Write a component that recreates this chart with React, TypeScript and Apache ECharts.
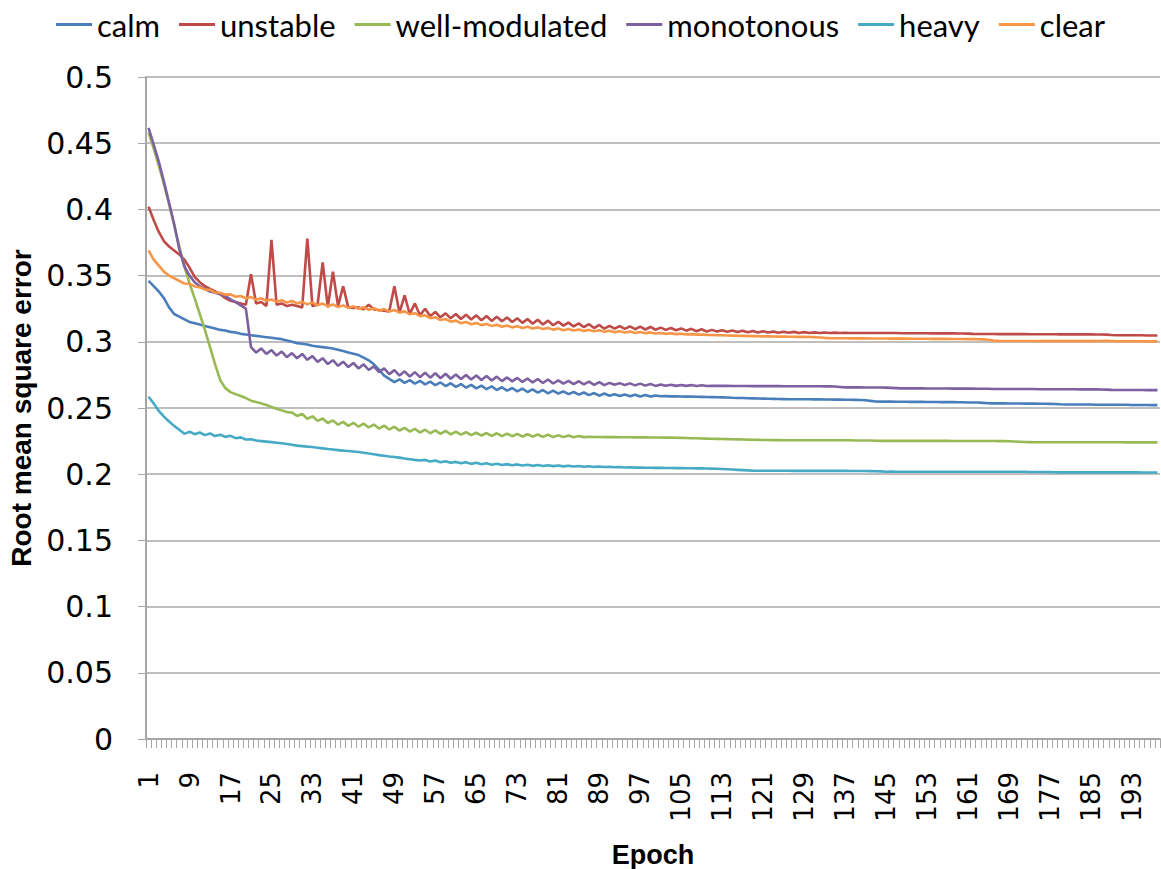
import React, { useEffect, useRef } from "react";
import * as echarts from "echarts";

// Training curves: RMSE per epoch for six voice-quality classes
const epochs: string[] = Array.from({ length: 198 }, (_, i) => String(i + 1));

const calm = [
  0.346, 0.342, 0.338, 0.333, 0.326, 0.321, 0.319, 0.317, 0.315, 0.314,
  0.313, 0.312, 0.311, 0.310, 0.309, 0.3085, 0.3075, 0.307, 0.306, 0.3055,
  0.305, 0.3045, 0.304, 0.3035, 0.303, 0.3025, 0.302, 0.301, 0.300, 0.299,
  0.2985, 0.298, 0.297, 0.2965, 0.296, 0.2955, 0.295, 0.294, 0.293, 0.292,
  0.291, 0.290, 0.288, 0.286, 0.283, 0.279, 0.2745, 0.272, 0.2695, 0.2717,
  0.2690, 0.2711, 0.2684, 0.2705, 0.2678, 0.2699, 0.2672, 0.2693, 0.2666, 0.2687,
  0.2660, 0.2681, 0.2654, 0.2675, 0.2648, 0.2669, 0.2642, 0.2663, 0.2636, 0.2657,
  0.2631, 0.2651, 0.2626, 0.2646, 0.2621, 0.2641, 0.2616, 0.2636, 0.2611, 0.2631,
  0.2609, 0.2625, 0.2605, 0.2621, 0.2601, 0.2617, 0.2597, 0.2613, 0.2593, 0.2609,
  0.2593, 0.2604, 0.2591, 0.2602, 0.2589, 0.2600, 0.2587, 0.2598, 0.2586, 0.2594,
  0.2589, 0.2590, 0.2588, 0.2588, 0.2587, 0.2586, 0.2586, 0.2585, 0.2584, 0.2583,
  0.2582, 0.2581, 0.2580, 0.2579, 0.2577, 0.2576, 0.2575, 0.2574, 0.2573, 0.2572,
  0.2571, 0.2570, 0.2569, 0.2568, 0.2567, 0.2566, 0.2566, 0.2566, 0.2566, 0.2566,
  0.2565, 0.2565, 0.2564, 0.2564, 0.2563, 0.2563, 0.2562, 0.2562, 0.2561, 0.2560,
  0.2558, 0.2554, 0.2549, 0.2548, 0.2548, 0.2548, 0.2547, 0.2547, 0.2547, 0.2546,
  0.2546, 0.2546, 0.2545, 0.2545, 0.2545, 0.2544, 0.2544, 0.2544, 0.2543, 0.2543,
  0.2542, 0.2542, 0.2541, 0.2539, 0.2536, 0.2535, 0.2535, 0.2535, 0.2534, 0.2534,
  0.2534, 0.2533, 0.2533, 0.2533, 0.2532, 0.2532, 0.2531, 0.2530, 0.2528, 0.2527,
  0.2527, 0.2527, 0.2526, 0.2526, 0.2526, 0.2525, 0.2525, 0.2525, 0.2525, 0.2524,
  0.2524, 0.2524, 0.2523, 0.2523, 0.2523, 0.2523, 0.2522, 0.2522,
];

const unstable = [
  0.402, 0.392, 0.383, 0.376, 0.372, 0.369, 0.366, 0.362, 0.356, 0.349,
  0.345, 0.342, 0.340, 0.338, 0.336, 0.333, 0.331, 0.330, 0.329, 0.328,
  0.351, 0.329, 0.330, 0.327, 0.377, 0.328, 0.329, 0.327, 0.328, 0.327,
  0.326, 0.378, 0.327, 0.328, 0.360, 0.326, 0.353, 0.327, 0.342, 0.326,
  0.3255, 0.326, 0.3245, 0.328, 0.3245, 0.324, 0.3235, 0.323, 0.342, 0.322,
  0.335, 0.321, 0.329, 0.320, 0.325, 0.3195, 0.3225, 0.3185, 0.3215, 0.3178,
  0.3210, 0.3172, 0.3205, 0.3168, 0.3200, 0.3163, 0.3195, 0.3158, 0.3190, 0.3155,
  0.3184, 0.3149, 0.3178, 0.3143, 0.3172, 0.3137, 0.3166, 0.3131, 0.3160, 0.3125,
  0.3151, 0.3122, 0.3145, 0.3116, 0.3139, 0.3110, 0.3133, 0.3104, 0.3127, 0.3099,
  0.3120, 0.3099, 0.3118, 0.3097, 0.3116, 0.3095, 0.3114, 0.3093, 0.3112, 0.3091,
  0.3107, 0.3090, 0.3104, 0.3087, 0.3101, 0.3084, 0.3098, 0.3080, 0.3095, 0.3077,
  0.3090, 0.3077, 0.3088, 0.3076, 0.3086, 0.3074, 0.3084, 0.3072, 0.3082, 0.3071,
  0.3079, 0.3070, 0.3077, 0.3069, 0.3076, 0.3068, 0.3075, 0.3067, 0.3073, 0.3067,
  0.3071, 0.3067, 0.3070, 0.3067, 0.3069, 0.3067, 0.3068, 0.3067, 0.3067, 0.3067,
  0.3067, 0.3067, 0.3066, 0.3066, 0.3066, 0.3066, 0.3066, 0.3065, 0.3065, 0.3065,
  0.3065, 0.3065, 0.3065, 0.3064, 0.3064, 0.3064, 0.3064, 0.3064, 0.3063, 0.3063,
  0.3062, 0.3060, 0.3059, 0.3059, 0.3059, 0.3059, 0.3058, 0.3058, 0.3058, 0.3058,
  0.3058, 0.3058, 0.3057, 0.3057, 0.3057, 0.3057, 0.3057, 0.3057, 0.3056, 0.3056,
  0.3056, 0.3056, 0.3056, 0.3056, 0.3056, 0.3055, 0.3055, 0.3054, 0.3051, 0.3049,
  0.3049, 0.3049, 0.3049, 0.3049, 0.3049, 0.3048, 0.3048, 0.3048,
];

const wellModulated = [
  0.458, 0.446, 0.433, 0.419, 0.404, 0.388, 0.372, 0.357, 0.344, 0.333,
  0.321, 0.309, 0.296, 0.283, 0.271, 0.265, 0.262, 0.2605, 0.259, 0.2575,
  0.2555, 0.2545, 0.2535, 0.2522, 0.2508, 0.2495, 0.2482, 0.2470, 0.2465, 0.2440,
  0.2455, 0.2419, 0.2437, 0.2403, 0.2421, 0.2387, 0.2406, 0.2374, 0.2395, 0.2365,
  0.2388, 0.2359, 0.2382, 0.2353, 0.2375, 0.2345, 0.2367, 0.2337, 0.2359, 0.2329,
  0.2350, 0.2322, 0.2342, 0.2315, 0.2336, 0.2309, 0.2331, 0.2305, 0.2327, 0.2301,
  0.2321, 0.2299, 0.2317, 0.2295, 0.2313, 0.2292, 0.2311, 0.2290, 0.2309, 0.2288,
  0.2306, 0.2287, 0.2304, 0.2285, 0.2302, 0.2284, 0.2300, 0.2282, 0.2298, 0.2280,
  0.2294, 0.2280, 0.2292, 0.2279, 0.2289, 0.2280, 0.2283, 0.2281, 0.2281, 0.2280,
  0.2280, 0.2280, 0.2279, 0.2279, 0.2279, 0.2278, 0.2278, 0.2278, 0.2277, 0.2277,
  0.2277, 0.2276, 0.2276, 0.2275, 0.2274, 0.2273, 0.2272, 0.2271, 0.2270, 0.2269,
  0.2268, 0.2267, 0.2266, 0.2265, 0.2264, 0.2263, 0.2262, 0.2261, 0.2260, 0.2259,
  0.2258, 0.2258, 0.2257, 0.2257, 0.2256, 0.2256, 0.2256, 0.2256, 0.2256, 0.2256,
  0.2256, 0.2256, 0.2256, 0.2256, 0.2256, 0.2256, 0.2256, 0.2256, 0.2255, 0.2255,
  0.2255, 0.2254, 0.2253, 0.2252, 0.2252, 0.2252, 0.2252, 0.2252, 0.2252, 0.2252,
  0.2252, 0.2252, 0.2252, 0.2252, 0.2252, 0.2252, 0.2252, 0.2251, 0.2251, 0.2251,
  0.2251, 0.2251, 0.2251, 0.2251, 0.2251, 0.2251, 0.2250, 0.2250, 0.2249, 0.2247,
  0.2245, 0.2243, 0.2242, 0.2241, 0.2241, 0.2241, 0.2241, 0.2241, 0.2241, 0.2241,
  0.2241, 0.2241, 0.2241, 0.2241, 0.2241, 0.2241, 0.2241, 0.2241, 0.2241, 0.2241,
  0.2241, 0.2240, 0.2240, 0.2240, 0.2240, 0.2240, 0.2240, 0.2240,
];

const monotonous = [
  0.4615, 0.449, 0.436, 0.421, 0.405, 0.389, 0.370, 0.357, 0.350, 0.345,
  0.342, 0.340, 0.338, 0.337, 0.336, 0.3345, 0.332, 0.330, 0.3275, 0.325,
  0.2960, 0.2919, 0.2950, 0.2908, 0.2938, 0.2896, 0.2926, 0.2884, 0.2915, 0.2875,
  0.2908, 0.2864, 0.2892, 0.2848, 0.2876, 0.2832, 0.2861, 0.2819, 0.2850, 0.2809,
  0.2840, 0.2799, 0.2830, 0.2787, 0.2815, 0.2771, 0.2799, 0.2756, 0.2786, 0.2745,
  0.2777, 0.2738, 0.2771, 0.2733, 0.2767, 0.2729, 0.2763, 0.2725, 0.2759, 0.2721,
  0.2753, 0.2719, 0.2749, 0.2715, 0.2745, 0.2711, 0.2741, 0.2707, 0.2737, 0.2703,
  0.2731, 0.2701, 0.2727, 0.2697, 0.2723, 0.2693, 0.2719, 0.2689, 0.2715, 0.2685,
  0.2708, 0.2684, 0.2705, 0.2681, 0.2702, 0.2678, 0.2699, 0.2675, 0.2696, 0.2673,
  0.2690, 0.2675, 0.2688, 0.2673, 0.2686, 0.2671, 0.2684, 0.2669, 0.2682, 0.2667,
  0.2677, 0.2668, 0.2675, 0.2667, 0.2674, 0.2667, 0.2673, 0.2666, 0.2672, 0.2666,
  0.2668, 0.2667, 0.2667, 0.2667, 0.2666, 0.2666, 0.2666, 0.2666, 0.2665, 0.2665,
  0.2665, 0.2665, 0.2665, 0.2665, 0.2664, 0.2664, 0.2664, 0.2664, 0.2664, 0.2664,
  0.2664, 0.2664, 0.2663, 0.2663, 0.2662, 0.2659, 0.2656, 0.2656, 0.2656, 0.2656,
  0.2655, 0.2655, 0.2655, 0.2655, 0.2654, 0.2652, 0.2650, 0.2648, 0.2648, 0.2648,
  0.2648, 0.2648, 0.2647, 0.2647, 0.2647, 0.2647, 0.2647, 0.2646, 0.2646, 0.2646,
  0.2646, 0.2646, 0.2645, 0.2645, 0.2645, 0.2644, 0.2644, 0.2644, 0.2644, 0.2644,
  0.2643, 0.2643, 0.2643, 0.2643, 0.2642, 0.2642, 0.2642, 0.2642, 0.2642, 0.2642,
  0.2642, 0.2642, 0.2641, 0.2641, 0.2641, 0.2641, 0.2640, 0.2639, 0.2637, 0.2636,
  0.2636, 0.2636, 0.2636, 0.2636, 0.2636, 0.2635, 0.2635, 0.2635,
];

const heavy = [
  0.2585, 0.2535, 0.2478, 0.2435, 0.2398, 0.2365, 0.2335, 0.2305, 0.2322, 0.2302,
  0.2315, 0.2295, 0.2308, 0.2288, 0.2298, 0.2282, 0.2290, 0.2272, 0.2278, 0.2262,
  0.2264, 0.2254, 0.2250, 0.2246, 0.2242, 0.2238, 0.2234, 0.2228, 0.2222, 0.2216,
  0.2212, 0.2208, 0.2205, 0.2200, 0.2195, 0.2190, 0.2186, 0.2182, 0.2178, 0.2175,
  0.2172, 0.2168, 0.2162, 0.2156, 0.2150, 0.2144, 0.2139, 0.2134, 0.2130, 0.2125,
  0.2118, 0.2113, 0.2108, 0.2104, 0.2108, 0.2096, 0.2103, 0.2090, 0.2098, 0.2086,
  0.2093, 0.2082, 0.2090, 0.2078, 0.2086, 0.2075, 0.2082, 0.2072, 0.2079, 0.2069,
  0.2076, 0.2067, 0.2074, 0.2065, 0.2072, 0.2063, 0.2070, 0.2062, 0.2068, 0.2061,
  0.2066, 0.2059, 0.2064, 0.2058, 0.2062, 0.2056, 0.2060, 0.2055, 0.2058, 0.2054,
  0.2056, 0.2052, 0.2054, 0.2051, 0.2052, 0.2050, 0.2050, 0.2049, 0.2049, 0.2048,
  0.2048, 0.2047, 0.2047, 0.2046, 0.2046, 0.2045, 0.2045, 0.2044, 0.2044, 0.2043,
  0.2042, 0.2041, 0.2039, 0.2037, 0.2035, 0.2033, 0.2031, 0.2029, 0.2027, 0.2026,
  0.2026, 0.2026, 0.2026, 0.2026, 0.2026, 0.2026, 0.2025, 0.2025, 0.2025, 0.2025,
  0.2025, 0.2025, 0.2025, 0.2025, 0.2025, 0.2025, 0.2025, 0.2024, 0.2024, 0.2024,
  0.2024, 0.2023, 0.2022, 0.2021, 0.2019, 0.2020, 0.2019, 0.2019, 0.2019, 0.2019,
  0.2019, 0.2019, 0.2019, 0.2019, 0.2019, 0.2019, 0.2019, 0.2019, 0.2019, 0.2019,
  0.2019, 0.2019, 0.2018, 0.2018, 0.2018, 0.2018, 0.2018, 0.2018, 0.2018, 0.2018,
  0.2018, 0.2018, 0.2017, 0.2017, 0.2017, 0.2017, 0.2016, 0.2015, 0.2014, 0.2014,
  0.2014, 0.2014, 0.2014, 0.2014, 0.2014, 0.2014, 0.2014, 0.2014, 0.2014, 0.2014,
  0.2014, 0.2014, 0.2014, 0.2014, 0.2013, 0.2013, 0.2013, 0.2013,
];

const clear = [
  0.369, 0.362, 0.3575, 0.353, 0.350, 0.348, 0.346, 0.3440, 0.3438, 0.3418,
  0.3412, 0.3395, 0.3392, 0.3372, 0.3370, 0.3356, 0.3358, 0.3340, 0.3346, 0.3328,
  0.3338, 0.3318, 0.3328, 0.3310, 0.3320, 0.3302, 0.3314, 0.3296, 0.3308, 0.3290,
  0.3302, 0.3283, 0.3296, 0.3276, 0.3289, 0.3269, 0.3282, 0.3262, 0.3275, 0.3256,
  0.3268, 0.3249, 0.3261, 0.3242, 0.3254, 0.3235, 0.3247, 0.3228, 0.3240, 0.3220,
  0.3230, 0.3208, 0.3216, 0.3193, 0.3200, 0.3178, 0.3186, 0.3164, 0.3172, 0.3152,
  0.3160, 0.3141, 0.3150, 0.3133, 0.3142, 0.3126, 0.3135, 0.3120, 0.3129, 0.3114,
  0.3123, 0.3109, 0.3118, 0.3104, 0.3113, 0.3100, 0.3109, 0.3096, 0.3105, 0.3092,
  0.3100, 0.3088, 0.3097, 0.3085, 0.3093, 0.3082, 0.3090, 0.3079, 0.3087, 0.3076,
  0.3083, 0.3073, 0.3080, 0.3070, 0.3077, 0.3067, 0.3074, 0.3065, 0.3071, 0.3063,
  0.3067, 0.3060, 0.3064, 0.3058, 0.3061, 0.3056, 0.3058, 0.3054, 0.3055, 0.3052,
  0.3051, 0.3050, 0.3049, 0.3048, 0.3047, 0.3046, 0.3045, 0.3044, 0.3043, 0.3042,
  0.3041, 0.3041, 0.3040, 0.3039, 0.3039, 0.3038, 0.3038, 0.3037, 0.3037, 0.3036,
  0.3035, 0.3033, 0.3030, 0.3028, 0.3027, 0.3027, 0.3027, 0.3026, 0.3026, 0.3026,
  0.3026, 0.3025, 0.3025, 0.3025, 0.3025, 0.3024, 0.3024, 0.3024, 0.3024, 0.3023,
  0.3023, 0.3023, 0.3023, 0.3022, 0.3022, 0.3022, 0.3022, 0.3021, 0.3021, 0.3021,
  0.3020, 0.3020, 0.3019, 0.3018, 0.3015, 0.3010, 0.3007, 0.3006, 0.3006, 0.3006,
  0.3006, 0.3006, 0.3006, 0.3006, 0.3005, 0.3005, 0.3005, 0.3005, 0.3005, 0.3005,
  0.3005, 0.3005, 0.3005, 0.3005, 0.3005, 0.3005, 0.3006, 0.3008, 0.3006, 0.3004,
  0.3004, 0.3004, 0.3004, 0.3004, 0.3004, 0.3003, 0.3003, 0.3003,
];

const seriesNames = ["calm", "unstable", "well-modulated", "monotonous", "heavy", "clear"];
const seriesData = [calm, unstable, wellModulated, monotonous, heavy, clear];
const seriesColors = ["#4A7EBB", "#BE4B48", "#98B954", "#7D60A0", "#46AAC5", "#F79646"];

export default function App() {
  const ref = useRef<HTMLDivElement>(null);

  useEffect(() => {
    if (!ref.current) return;
    const chart = echarts.init(ref.current, undefined, { renderer: "svg" });
    chart.setOption({
      animation: false,
      backgroundColor: "#ffffff",
      color: seriesColors,
      legend: {
        top: 4,
        left: "center",
        icon: "rect",
        itemWidth: 36,
        itemHeight: 3,
        itemGap: 19,
        textStyle: { fontFamily: "Lato", fontSize: 31, color: "#000" },
        data: seriesNames,
      },
      grid: {
        left: 146,
        right: 1,
        top: 77,
        bottom: 130,
        containLabel: false,
        outerBoundsMode: "none",
      },
      xAxis: {
        type: "category",
        data: epochs,
        boundaryGap: true,
        name: "Epoch",
        nameLocation: "middle",
        nameGap: 102,
        nameTextStyle: { fontFamily: "Liberation Sans", fontWeight: "bold", fontSize: 27, color: "#000" },
        axisLine: { lineStyle: { color: "#A6A6A6", width: 2 } },
        axisTick: { show: true, interval: 0, length: 9, lineStyle: { color: "#A6A6A6", width: 1 } },
        axisLabel: {
          interval: 7,
          rotate: 90,
          margin: 33,
          fontFamily: "DejaVu Sans",
          fontSize: 26,
          color: "#000",
        },
        splitLine: { show: false },
      },
      yAxis: {
        type: "value",
        min: 0,
        max: 0.5,
        interval: 0.05,
        name: "Root mean square error",
        nameLocation: "middle",
        nameGap: 107,
        nameRotate: 90,
        nameTextStyle: { fontFamily: "Liberation Sans", fontWeight: "bold", fontSize: 28, color: "#000" },
        axisLine: { show: true, lineStyle: { color: "#A6A6A6", width: 2 } },
        axisTick: { show: true, length: 8, lineStyle: { color: "#A6A6A6", width: 1 } },
        axisLabel: {
          margin: 33,
          fontFamily: "DejaVu Sans",
          fontSize: 30,
          color: "#000",
          formatter: (v: number) => String(Math.round(v * 100) / 100),
        },
        splitLine: { lineStyle: { color: "#BFBFBF", width: 2 } },
      },
      series: seriesNames.map((name, i) => ({
        name,
        type: "line",
        data: seriesData[i],
        showSymbol: false,
        symbol: "none",
        lineStyle: { width: 2.6, color: seriesColors[i] },
        itemStyle: { color: seriesColors[i] },
      })),
    });
    return () => chart.dispose();
  }, []);

  return (
    <div
      ref={ref}
      style={{ position: "absolute", left: 0, top: 0, width: 1161, height: 869, background: "#fff" }}
    />
  );
}
